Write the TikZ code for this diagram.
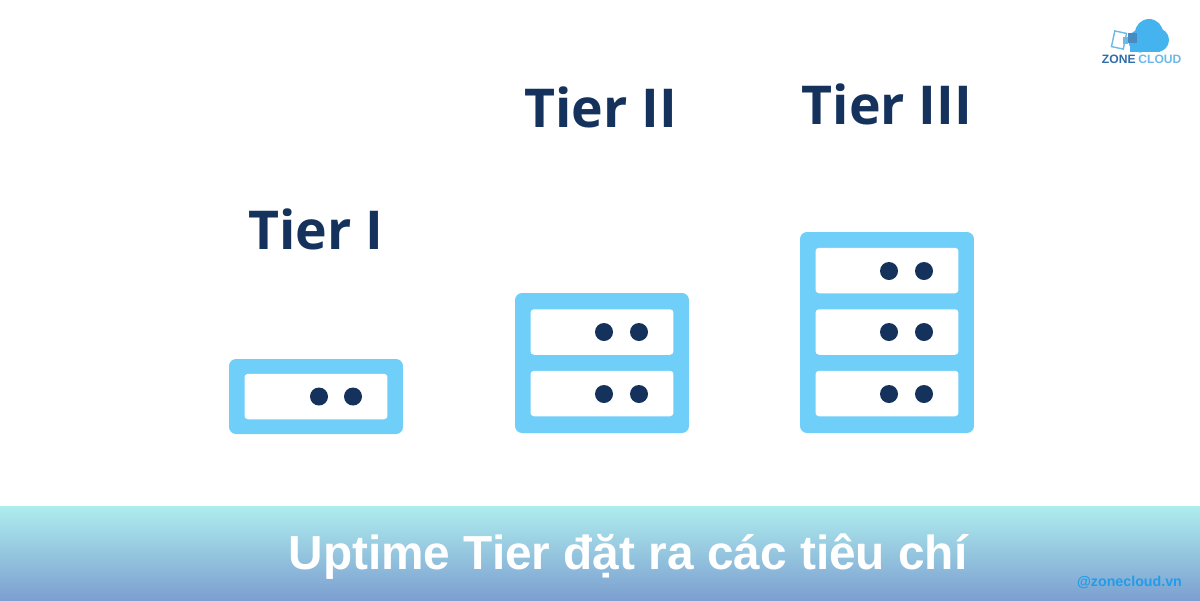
\documentclass[tikz,border=0pt]{standalone}
\usepackage{fontspec}
\setmainfont{Liberation Sans}
\newfontfamily\tierfont{Open Sans}
\usepackage{xcolor}
\definecolor{rackblue}{HTML}{6FCFF8}
\definecolor{dotnavy}{HTML}{14325C}
\definecolor{bandtop}{HTML}{AEEDEE}
\definecolor{bandbottom}{HTML}{7C9FD0}
\definecolor{handleblue}{HTML}{1E9EEA}
\definecolor{cloudblue}{HTML}{45B4EE}
\definecolor{logonavy}{HTML}{2F6CA8}
\definecolor{logolight}{HTML}{6DB9E6}
\tikzset{
        rackbody/.style={fill=rackblue, rounded corners=0.14cm, minimum width=3.48cm, inner sep=0pt},
        rackslot/.style={fill=white, rounded corners=0.07cm, minimum width=2.86cm, minimum height=0.91cm, inner sep=0pt},
        rackdot/.style={fill=dotnavy, circle, minimum size=0.36cm, inner sep=0pt},
        tierlabel/.style={anchor=base, text=dotnavy, font=\tierfont\bfseries\fontsize{30.5}{36}\selectfont},
        logopart/.style={fill=cloudblue, circle, inner sep=0pt}
}
\begin{document}
\begin{tikzpicture}[x=0.02cm, y=-0.02cm]
        \useasboundingbox (0,0) rectangle (1200,600);
        \node [tierlabel] (tierone) at (316,249.5) {Tier I};
        \node [tierlabel] (tiertwo) at (601,127) {Tier II};
        \node [tierlabel] (tierthree) at (887,124) {Tier III};
        \node [rackbody, minimum height=1.5cm] (rackone) at (316,396.5) {};
        \node [rackslot] (slotonea) at (316,396.5) {};
        \node [rackdot] at (319,396.5) {};
        \node [rackdot] at (353,396.5) {};
        \node [rackbody, minimum height=2.8cm] (racktwo) at (602,363) {};
        \node [rackslot] (slottwoa) at (602,332) {};
        \node [rackslot] (slottwob) at (602,393.5) {};
        \node [rackdot] at (604,332) {};
        \node [rackdot] at (639,332) {};
        \node [rackdot] at (604,394) {};
        \node [rackdot] at (639,394) {};
        \node [rackbody, minimum height=4.02cm] (rackthree) at (887,332.5) {};
        \node [rackslot] (slotthreea) at (887,270.5) {};
        \node [rackslot] (slotthreeb) at (887,332) {};
        \node [rackslot] (slotthreec) at (887,393.5) {};
        \node [rackdot] at (889,271) {};
        \node [rackdot] at (924,271) {};
        \node [rackdot] at (889,332) {};
        \node [rackdot] at (924,332) {};
        \node [rackdot] at (889,394) {};
        \node [rackdot] at (924,394) {};
        \shade [top color=bandtop, bottom color=bandbottom] (0,506) rectangle (1200,600);
        \node [anchor=base, text=white, font=\bfseries\fontsize{27.2}{33}\selectfont] (bandtitle) at (628,569) {Uptime Tier đặt ra các tiêu chí};
        \node [anchor=base, text=handleblue, font=\bfseries\fontsize{8.1}{10}\selectfont] (handle) at (1129.5,586) {@zonecloud.vn};
        \node [logopart, minimum size=0.46cm] (cloudleft) at (1140,41) {};
        \node [logopart, minimum size=0.48cm] (cloudright) at (1157,40) {};
        \node [logopart, minimum size=0.56cm] (cloudtop) at (1149,33) {};
        \fill [cloudblue] (1138,41) rectangle (1160,52);
        \draw [logolight, line width=0.8pt, rotate around={-12:(1119,40)}] (1113,32) rectangle (1125,48);
        \fill [logolight] (1123,37) rectangle (1128,44);
        \fill [logonavy!60!logolight] (1128,33) rectangle (1137,43);
        \fill [cloudblue] (1130,43) rectangle (1137,52);
        \node [anchor=base east, text=logonavy, font=\bfseries\fontsize{6.9}{8}\selectfont, inner sep=0pt] (logozone) at (1136,63.5) {ZONE};
        \node [anchor=base west, text=logolight, font=\bfseries\fontsize{6.9}{8}\selectfont, inner sep=0pt] (logocloud) at (1138,63.5) {CLOUD};
        \end{tikzpicture}
\end{document}
